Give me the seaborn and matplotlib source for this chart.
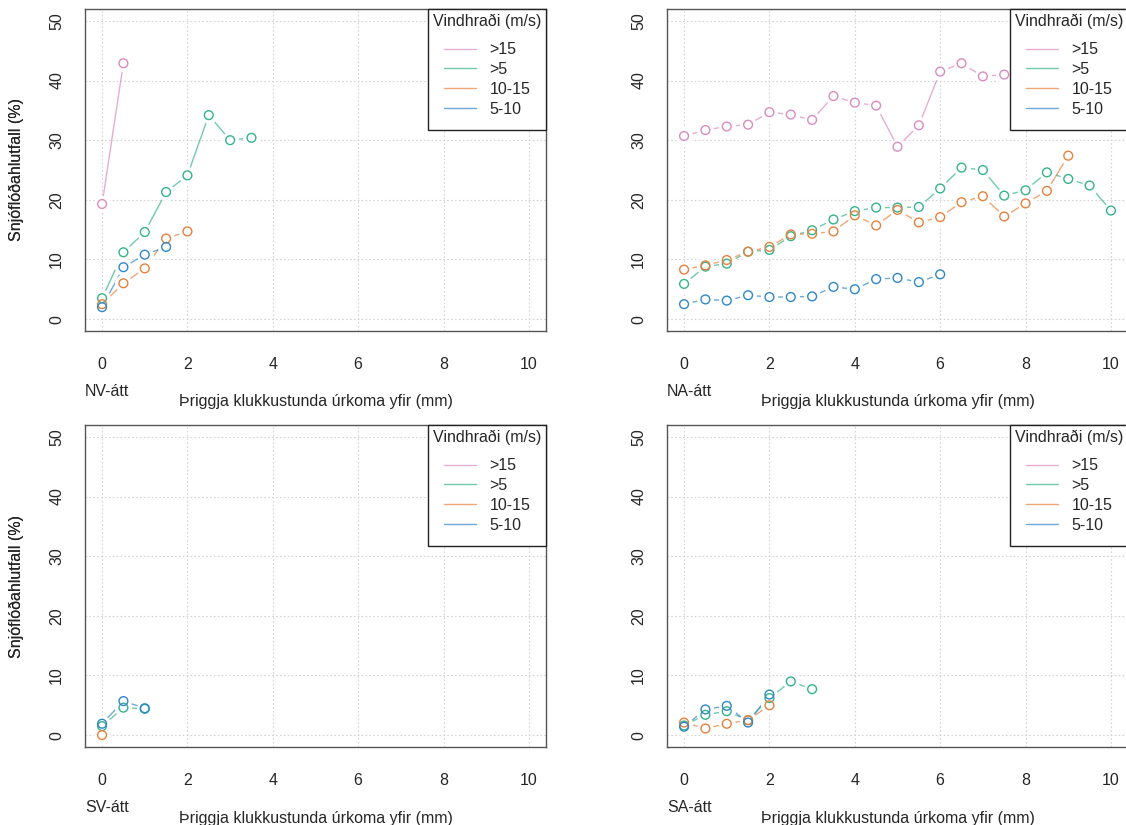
import matplotlib
matplotlib.use("Agg")
import matplotlib.pyplot as plt
import seaborn as sns
import pandas as pd
from matplotlib.lines import Line2D

# úrkoma (mm), 0.5 mm bil
urkoma = [0, 0.5, 1, 1.5, 2, 2.5, 3, 3.5, 4, 4.5, 5, 5.5, 6, 6.5, 7, 7.5, 8, 8.5, 9, 9.5, 10]
vindflokkar = [">15", ">5", "10-15", "5-10"]
litir = ["#DA8CBE", "#35B38B", "#E7803D", "#2F87C9"]
attir = ["NV-átt", "NA-átt", "SV-átt", "SA-átt"]

# snjóflóðahlutfall (%) eftir átt og vindhraða
nv_15 = [19.3, 42.9]
nv_5 = [3.5, 11.2, 14.6, 21.3, 24.1, 34.2, 30.0, 30.4]
nv_1015 = [2.5, 6.0, 8.5, 13.5, 14.7]
nv_510 = [2.0, 8.7, 10.8, 12.1]

na_15 = [30.7, 31.7, 32.3, 32.6, 34.7, 34.3, 33.4, 37.4, 36.3, 35.8, 28.9, 32.5,
         41.5, 42.9, 40.7, 41.0]
na_5 = [5.9, 8.8, 9.3, 11.3, 11.6, 13.9, 14.9, 16.7, 18.1, 18.7, 18.7, 18.8, 21.9,
        25.4, 25.0, 20.7, 21.6, 24.6, 23.5, 22.4, 18.2]
na_1015 = [8.3, 9.0, 9.9, 11.3, 12.1, 14.2, 14.3, 14.7, 17.4, 15.7, 18.3, 16.2, 17.1,
           19.6, 20.6, 17.2, 19.4, 21.5, 27.4]
na_510 = [2.5, 3.3, 3.1, 4.0, 3.7, 3.7, 3.8, 5.4, 5.0, 6.7, 6.9, 6.2, 7.5]

sv_15 = []
sv_5 = [1.5, 4.6, 4.4]
sv_1015 = [0.0]
sv_510 = [1.9, 5.7, 4.5]

sa_15 = []
sa_5 = [1.6, 3.4, 4.0, 2.5, 6.2, 9.0, 7.7]
sa_1015 = [2.1, 1.1, 1.9, 2.5, 5.0]
sa_510 = [1.4, 4.3, 4.9, 2.1, 6.8]

gogn = {
    "NV-átt": [nv_15, nv_5, nv_1015, nv_510],
    "NA-átt": [na_15, na_5, na_1015, na_510],
    "SV-átt": [sv_15, sv_5, sv_1015, sv_510],
    "SA-átt": [sa_15, sa_5, sa_1015, sa_510],
}

FS = 11.5
sns.set_style("white")
plt.rcParams["font.family"] = ["Liberation Sans", "DejaVu Sans"]
plt.rcParams["font.size"] = FS

fig = plt.figure(figsize=(11.26, 8.25), dpi=100)
W, H = 1126, 825
# stadsetning ramma i pixlum: vinstri, efri
kassar = [(85, 9), (667, 9), (85, 425), (667, 425)]
bw, bh = 461, 322

palette = dict(zip(vindflokkar, litir))

for att, (px, py) in zip(attir, kassar):
    ax = fig.add_axes([px / W, 1 - (py + bh) / H, bw / W, bh / H])
    rows = []
    for flokkur, gildi in zip(vindflokkar, gogn[att]):
        for x, y in zip(urkoma, gildi):
            rows.append({"urkoma": x, "hlutfall": y, "vind": flokkur})
    df = pd.DataFrame(rows, columns=["urkoma", "hlutfall", "vind"])

    ax.grid(True, color="#d3d3d3", linestyle=(0, (1.5, 2)), linewidth=0.8)
    ax.set_axisbelow(True)

    for flokkur in vindflokkar:
        sub = df[df["vind"] == flokkur]
        if len(sub) > 1:
            sns.lineplot(data=sub, x="urkoma", y="hlutfall", color=palette[flokkur],
                         linewidth=1.0, alpha=0.7, ax=ax, legend=False, zorder=2)
    # hvitir hringir til ad fa bil eins og type="b"
    sns.scatterplot(data=df, x="urkoma", y="hlutfall", color="white", s=150,
                    linewidth=0, ax=ax, legend=False, zorder=3)
    for flokkur in vindflokkar:
        sub = df[df["vind"] == flokkur]
        if len(sub):
            sns.scatterplot(data=sub, x="urkoma", y="hlutfall", marker="o", s=40,
                            facecolor="none", edgecolor=palette[flokkur],
                            linewidth=1.0, ax=ax, legend=False, zorder=4)

    ax.set_xlim(-0.4, 10.4)
    ax.set_ylim(-2, 52)
    ax.set_xticks([0, 2, 4, 6, 8, 10])
    ax.set_yticks([0, 10, 20, 30, 40, 50])
    ax.tick_params(axis="x", direction="out", length=7.5, width=0.9,
                   color="#111111", labelsize=FS, pad=11.5)
    ax.tick_params(axis="y", direction="out", length=7.5, width=0.9,
                   color="#111111", labelsize=FS, pad=7.5)
    for lab in ax.get_yticklabels():
        lab.set_rotation(90)
        lab.set_va("center")
    for sp in ax.spines.values():
        sp.set_color("#555555")
        sp.set_linewidth(1.0)
    ax.set_xlabel("")
    ax.set_ylabel("")

    ax.annotate(att, xy=(0, 0), xycoords="axes fraction", xytext=(0, -61),
                textcoords="offset pixels", ha="left", va="center", fontsize=FS)
    ax.annotate("Þriggja klukkustunda úrkoma yfir (mm)", xy=(0.5, 0),
                xycoords="axes fraction", xytext=(0, -71), textcoords="offset pixels",
                ha="center", va="center", fontsize=FS)
    ax.annotate("Snjóflóðahlutfall (%)", xy=(0, 0.5), xycoords="axes fraction",
                xytext=(-px + 16, 0), textcoords="offset pixels", ha="center",
                va="center", rotation=90, fontsize=FS)

    handles = [Line2D([0], [0], color=c, linewidth=1.0, alpha=0.7) for c in litir]
    leg = ax.legend(handles, vindflokkar, title="Vindhraði (m/s)", loc="upper right",
                    borderaxespad=0, frameon=True, fancybox=False, fontsize=FS,
                    title_fontsize=FS, handlelength=2.0, handletextpad=0.85,
                    labelspacing=0.3, borderpad=0.3, alignment="center")
    # meira bil kringum linurnar, eins og i R
    leg._legend_handle_box.pad = 6
    leg._legend_box.sep = 0.3 * FS
    leg.get_frame().set_edgecolor("#222222")
    leg.get_frame().set_linewidth(1.0)
    leg.get_frame().set_alpha(1)
    leg.set_zorder(10)

fig.savefig("out.png", dpi=100)
